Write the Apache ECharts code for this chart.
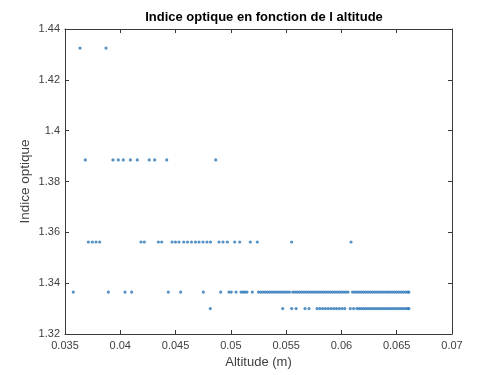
<!DOCTYPE html>
<html>
<head>
<meta charset="utf-8">
<script src="https://cdn.jsdelivr.net/npm/echarts@6/dist/echarts.min.js"></script>
<style>html,body{margin:0;padding:0;background:#fff}#c{width:500px;height:375px}</style>
</head>
<body>
<div id="c"></div>
<script>
// Index levels (y values)
const levels = [1.4325, 1.3885, 1.3562, 1.3365, 1.33];
// Altitudes (x values) observed at each index level
const alt_14325 = [0.03636, 0.03871];
const alt_13885 = [0.03684, 0.03934, 0.03982, 0.04027, 0.04091, 0.04154, 0.04262, 0.04311, 0.0442, 0.04863];
const alt_13562 = [0.03711, 0.03747, 0.0378, 0.03814, 0.04187, 0.04217, 0.04344, 0.04375, 0.04468, 0.04499,
  0.04531, 0.04574, 0.04608, 0.04644, 0.0468, 0.04712, 0.04748, 0.04784, 0.04816, 0.04893, 0.04929, 0.04968,
  0.05035, 0.0508, 0.05176, 0.05239, 0.0555, 0.06087];
const alt_13365 = [0.03575, 0.03892, 0.04043, 0.04103, 0.04434, 0.04546, 0.04751, 0.04908, 0.04983, 0.05004,
  0.05047, 0.05092, 0.0511, 0.05128, 0.05146, 0.05194,
  0.0525, 0.0527, 0.0529, 0.0531, 0.0533, 0.0535, 0.0537, 0.0539, 0.0541, 0.0543, 0.0545, 0.0547, 0.0549, 0.0551, 0.0553,
  0.0556, 0.0558, 0.0560, 0.0562, 0.0564, 0.0566, 0.0568, 0.0570, 0.0572, 0.0574, 0.0576, 0.0578, 0.0580, 0.0582,
  0.0584, 0.0586, 0.0588, 0.0590, 0.0592, 0.0594, 0.0596, 0.0598, 0.0600, 0.0602, 0.0604, 0.0606,
  0.0610, 0.0612, 0.0614, 0.0616, 0.0618, 0.0620, 0.0622, 0.0624, 0.0626, 0.0628, 0.0630, 0.0632, 0.0634, 0.0636,
  0.0638, 0.0640, 0.0642, 0.0644, 0.0646, 0.0648, 0.0650, 0.0652, 0.0654, 0.0656, 0.0658, 0.0660, 0.0661];
const alt_1330 = [0.04814, 0.05469, 0.0555, 0.0559, 0.05671, 0.05707,
  0.0578, 0.05805, 0.0583, 0.05855, 0.0588, 0.05905, 0.0593, 0.05955, 0.0598, 0.06005, 0.0603,
  0.0608, 0.0611, 0.0614,
  0.0616, 0.0618, 0.0620, 0.0622, 0.0624, 0.0626, 0.0628, 0.0630, 0.0632, 0.0634, 0.0636, 0.0638, 0.0640,
  0.0642, 0.0644, 0.0646, 0.0648, 0.0650, 0.0652, 0.0654, 0.0656, 0.0658, 0.0660, 0.0661];
const xTicks = ['0.035', '0.04', '0.045', '0.05', '0.055', '0.06', '0.065', '0.07'];
const yTicks = ['1.32', '1.34', '1.36', '1.38', '1.4', '1.42', '1.44'];

const groups = [alt_14325, alt_13885, alt_13562, alt_13365, alt_1330];
const points = [];
groups.forEach((g, i) => g.forEach(x => points.push([x, levels[i]])));

const axisCol = '#3a3a3a';
const textCol = '#404040';
const labelFont = 'Liberation Sans, Arial, Helvetica, sans-serif';
const chart = echarts.init(document.getElementById('c'), null, {renderer: 'canvas'});
const xCommon = {
  type: 'value', min: 0.035, max: 0.07, interval: 0.005,
  axisLine: {show: true, lineStyle: {color: axisCol, width: 1}},
  axisTick: {show: true, inside: true, length: 4, lineStyle: {color: axisCol}},
  splitLine: {show: false}
};
const yCommon = {
  type: 'value', min: 1.32, max: 1.44, interval: 0.02,
  axisLine: {show: true, lineStyle: {color: axisCol, width: 1}},
  axisTick: {show: true, inside: true, length: 4, lineStyle: {color: axisCol}},
  splitLine: {show: false}
};
chart.setOption({
  backgroundColor: '#fff',
  animation: false,
  title: {
    text: 'Indice optique en fonction de l altitude',
    left: 259, textAlign: 'center', top: 6,
    textStyle: {fontFamily: labelFont, fontSize: 13, fontWeight: 'bold', color: '#000'}
  },
  grid: {left: 65, right: 48, top: 29, bottom: 41},
  xAxis: [
    Object.assign({}, xCommon, {
      position: 'bottom',
      name: 'Altitude (m)', nameLocation: 'middle', nameGap: 19,
      nameTextStyle: {fontFamily: labelFont, fontSize: 13, color: textCol},
      axisLabel: {fontFamily: labelFont, fontSize: 11, color: textCol, margin: 6,
        formatter: v => xTicks[Math.round((v - 0.035) / 0.005)]}
    }),
    Object.assign({}, xCommon, {position: 'top', axisLabel: {show: false}})
  ],
  yAxis: [
    Object.assign({}, yCommon, {
      position: 'left',
      name: 'Indice optique', nameLocation: 'middle', nameGap: 33,
      nameMoveOverlap: false,
      nameTextStyle: {fontFamily: labelFont, fontSize: 13.5, color: textCol},
      axisLabel: {fontFamily: labelFont, fontSize: 11, color: textCol, margin: 5,
        formatter: v => yTicks[Math.round((v - 1.32) / 0.02)]}
    }),
    Object.assign({}, yCommon, {position: 'right', axisLabel: {show: false}})
  ],
  series: [{
    type: 'scatter',
    data: points,
    symbol: 'circle',
    symbolSize: 3.2,
    itemStyle: {color: '#2a77b8'}
  }]
});
</script>
</body>
</html>
